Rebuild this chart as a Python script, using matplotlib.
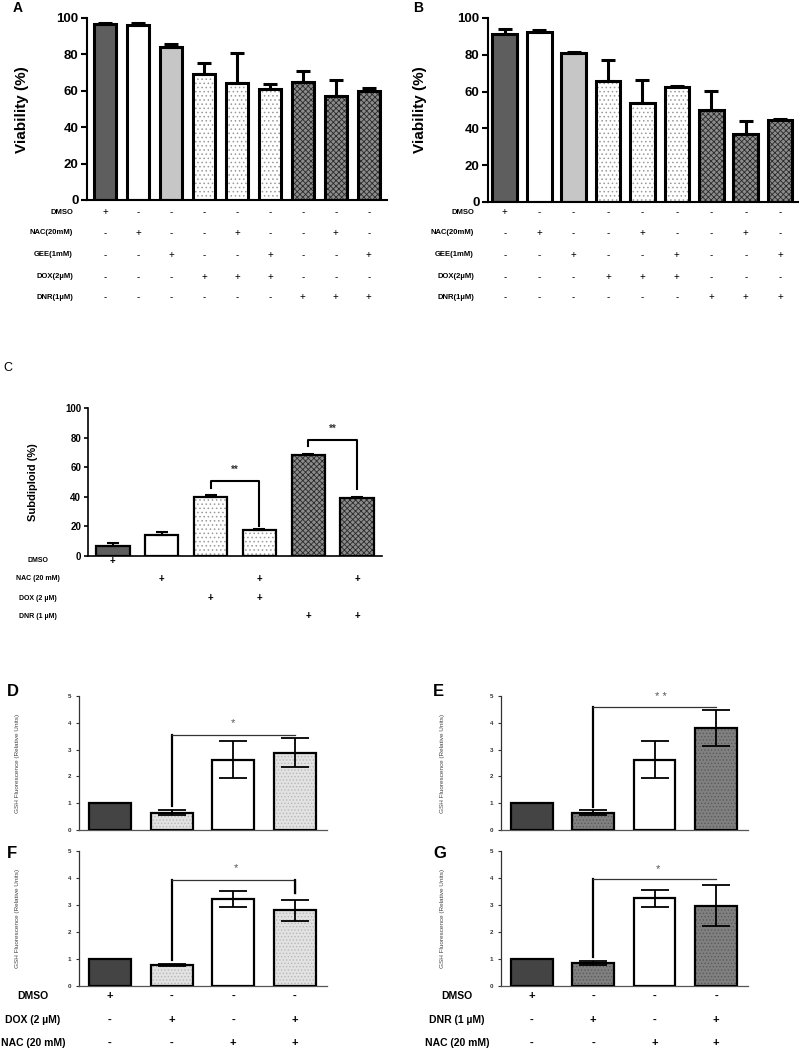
import matplotlib
matplotlib.use('Agg')
import matplotlib.pyplot as plt
from matplotlib.transforms import blended_transform_factory

plt.rcParams['font.family'] = ['Liberation Sans', 'DejaVu Sans']
plt.rcParams['hatch.linewidth'] = 0.6

W, H = 799, 1050

# panels A and B: viability
ab_rows = ['DMSO', 'NAC(20mM)', 'GEE(1mM)', 'DOX(2µM)', 'DNR(1µM)']
ab_signs = ['+--------',
            '-+--+--+-',
            '--+--+--+',
            '---+++---',
            '------+++']
a_mean = [96.5, 96, 84, 69.5, 64.5, 61, 65, 57, 60]
a_err = [1, 1, 1.5, 6, 16, 2.5, 6, 9, 1.5]
b_mean = [91.5, 92.5, 81, 66, 54, 62.5, 50, 37, 44.5]
b_err = [2.5, 1, 0.5, 11, 12.5, 0.5, 10.5, 7, 0.5]
ab_style = ['dark', 'white', 'light', 'dots', 'dots', 'dots', 'check', 'check', 'check']

# panel C: subdiploid
c_rows = ['DMSO', 'NAC (20 mM)', 'DOX (2 µM)', 'DNR (1 µM)']
c_signs = ['+     ', ' + + +', '  ++  ', '    ++']
c_mean = [7, 14.5, 40, 17.5, 68, 39.5]
c_err = [1.5, 1.5, 1, 0.7, 1, 0.6]
c_style = ['dark', 'white', 'dots', 'dots', 'check', 'check']

# panels D-G: GSH fluorescence
d_mean = [1.0, 0.65, 2.62, 2.88]
d_err = [0, 0.09, 0.69, 0.54]
e_mean = [1.0, 0.65, 2.62, 3.8]
e_err = [0, 0.08, 0.69, 0.67]
f_mean = [1.0, 0.78, 3.22, 2.8]
f_err = [0, 0.03, 0.31, 0.4]
g_mean = [1.0, 0.85, 3.25, 2.98]
g_err = [0, 0.07, 0.31, 0.77]
dox_style = ['gdark', 'gdots', 'white', 'gdots']
dnr_style = ['gdark', 'gdots2', 'white', 'gdots2']
f_rows = ['DMSO', 'DOX (2 µM)', 'NAC (20 mM)']
g_rows = ['DMSO', 'DNR (1 µM)', 'NAC (20 mM)']
fg_signs = ['+---', '-+-+', '--++']

STYLES = {
    'dark': ('#5e5e5e', None, None),
    'white': ('white', None, None),
    'light': ('#c6c6c6', None, None),
    'dots': ('white', '....', '#9a9a9a'),
    'check': ('#8c8c8c', 'xxxxxx', '#2a2a2a'),
    'gdark': ('#444444', None, None),
    'gdots': ('#e2e2e2', '.....', '#b8b8b8'),
    'gdots2': ('#808080', '.....', '#5a5a5a'),
}

fig = plt.figure(figsize=(W / 100, H / 100), dpi=100)


def px_axes(l, t, r, b):
    return fig.add_axes([l / W, 1 - b / H, (r - l) / W, (b - t) / H])


def draw_bars(ax, means, errs, styles, width, lw, capsize, elw, upper_only):
    for i, (m, s) in enumerate(zip(means, styles)):
        fc, hatch, hc = STYLES[s]
        ax.bar(i, m, width, color=fc, edgecolor=hc if hatch else fc,
               linewidth=0, hatch=hatch, zorder=2)
        ax.bar(i, m, width, fill=False, edgecolor='black', linewidth=lw, zorder=3)
    for i, (m, e) in enumerate(zip(means, errs)):
        if e <= 0:
            continue
        if upper_only:
            yerr = [[0], [e]]
        else:
            yerr = [[e], [e]]
        ax.errorbar(i, m, yerr=yerr, fmt='none', ecolor='black', elinewidth=elw,
                    capsize=capsize, capthick=elw, zorder=4)


def sign_rows(ax, rows, signs, ys, label_x, label_ha, fs_label, fs_sign, bold_sign):
    tr = blended_transform_factory(ax.transData, fig.transFigure)
    for name, row, y in zip(rows, signs, ys):
        fig.text(label_x / W, 1 - y / H, name, ha=label_ha, va='center',
                 fontsize=fs_label, fontweight='bold')
        for i, s in enumerate(row):
            if s == ' ':
                continue
            ax.text(i, 1 - y / H, s, transform=tr, ha='center', va='center',
                    fontsize=fs_sign, fontweight='bold' if bold_sign else 'normal')


# ---- A and B ----
for (l, r, b_px, xl, width, means, errs, letter, lx, ylx) in [
        (87, 387, 200, (-0.545, 8.55), 0.68, a_mean, a_err, 'A', 13, 22),
        (488, 798, 202, (-0.49, 8.52), 0.72, b_mean, b_err, 'B', 413, 420)]:
    ax = px_axes(l, 18, r, b_px)
    draw_bars(ax, means, errs, ab_style, width, 2.2, 5, 2.2, True)
    ax.set_xlim(*xl)
    ax.set_ylim(0, 100)
    ax.set_yticks([0, 20, 40, 60, 80, 100])
    ax.set_xticks([])
    for sp in ['top', 'right']:
        ax.spines[sp].set_visible(False)
    ax.spines['left'].set_linewidth(1.5)
    ax.spines['bottom'].set_linewidth(1.5)
    ax.tick_params(axis='y', length=4, width=1.5, labelsize=9.5, pad=2)
    for t in ax.get_yticklabels():
        t.set_fontweight('bold')
    fig.text(ylx / W, 1 - 110 / H, 'Viability (%)', rotation=90, ha='center',
             va='center', fontsize=11, fontweight='bold')
    fig.text(lx / W, 1 - 1 / H, letter, ha='left', va='top', fontsize=10,
             fontweight='bold')
    sign_rows(ax, ab_rows, ab_signs, [212, 233, 255, 277, 297],
              l - 14, 'right', 5.5, 7, False)

# ---- C ----
ax = px_axes(88, 408, 382, 556)
draw_bars(ax, c_mean, c_err, c_style, 0.68, 1.6, 4, 1.5, True)
ax.set_xlim(-0.51, 5.51)
ax.set_ylim(0, 100)
ax.set_yticks([0, 20, 40, 60, 80, 100])
ax.set_xticks([])
for sp in ['top', 'right']:
    ax.spines[sp].set_visible(False)
ax.spines['left'].set_linewidth(1.2)
ax.spines['bottom'].set_linewidth(1.2)
ax.tick_params(axis='y', length=3, width=1.2, labelsize=7, pad=2)
for t in ax.get_yticklabels():
    t.set_fontweight('bold')
for (i, j, y0, ytop, y1, ystar) in [(2, 3, 46, 50.7, 20, 58), (4, 5, 74, 78.5, 45, 86)]:
    ax.plot([i, i, j, j], [y0, ytop, ytop, y1], color='black', lw=1.5, zorder=5)
    ax.text((i + j) / 2, ystar, '**', ha='center', va='center', fontsize=7,
            fontweight='bold', color='#333333')
fig.text(33 / W, 1 - 482 / H, 'Subdiploid (%)', rotation=90, ha='center',
         va='center', fontsize=8, fontweight='bold')
fig.text(3 / W, 1 - 368 / H, 'C', ha='left', va='center', fontsize=9)
sign_rows(ax, c_rows, c_signs, [561, 579, 598, 616], 38, 'center', 5, 7, True)

# ---- D, E, F, G ----
panels = [
    (79, 327, 696, 830, d_mean, d_err, dox_style, 'D', 7, 691, 18,
     (0.9, 3.55, None, 4.0, 2.0, '*'), None),
    (501, 748, 696, 830, e_mean, e_err, dnr_style, 'E', 433, 691, 443,
     (0.86, 4.59, None, 4.96, 2.1, '* *'), None),
    (79, 327, 851, 986, f_mean, f_err, dox_style, 'F', 7, 854, 18,
     (0.96, 3.93, 3.44, 4.37, 2.05, '*'), (f_rows, 33)),
    (501, 748, 851, 986, g_mean, g_err, dnr_style, 'G', 433, 854, 443,
     (1.07, 3.96, None, 4.33, 2.05, '*'), (g_rows, 457)),
]
for (l, r, t, b, means, errs, styles, letter, lx, ly, ylx, br, rows) in panels:
    ax = px_axes(l, t, r, b)
    draw_bars(ax, means, errs, styles, 0.68, 1.6, 10, 1.3, False)
    ax.set_xlim(-0.50, 3.52)
    ax.set_ylim(0, 5)
    ax.set_yticks([0, 1, 2, 3, 4, 5])
    ax.set_xticks([])
    for sp in ['top', 'right']:
        ax.spines[sp].set_visible(False)
    ax.spines['left'].set_linewidth(0.9)
    ax.spines['bottom'].set_linewidth(0.9)
    ax.spines['left'].set_color('#333333')
    ax.spines['bottom'].set_color('#555555')
    ax.tick_params(axis='y', length=2.5, width=0.8, labelsize=4.5, pad=3,
                   colors='#333333')
    for tl in ax.get_yticklabels():
        tl.set_fontweight('bold')
    y0, ytop, y1, ystar, xstar, star = br
    ax.plot([1, 1], [y0, ytop], color='black', lw=1.6, zorder=5)
    if y1 is None:
        ax.plot([1, 3], [ytop, ytop], color='#333333', lw=0.9, zorder=5)
    else:
        ax.plot([1, 3, 3], [ytop, ytop, y1], color='#333333', lw=0.9, zorder=5)
        ax.plot([3, 3], [ytop, y1], color='black', lw=1.6, zorder=5)
    ax.text(xstar, ystar, star, ha='center', va='center', fontsize=8,
            color='#555555')
    fig.text(ylx / W, 1 - (t + b) / 2 / H, 'GSH Fluorescence (Relative Units)',
             rotation=90, ha='center', va='center', fontsize=4.6, color='#444444',
             family=['Liberation Sans Narrow', 'Liberation Sans', 'DejaVu Sans'])
    fig.text(lx / W, 1 - ly / H, letter, ha='left', va='center', fontsize=12,
             fontweight='bold')
    if rows is not None:
        names, cx = rows
        sign_rows(ax, names, fg_signs, [996, 1020, 1043], cx, 'center', 7.5, 8, True)

fig.savefig('out.png', dpi=100)
